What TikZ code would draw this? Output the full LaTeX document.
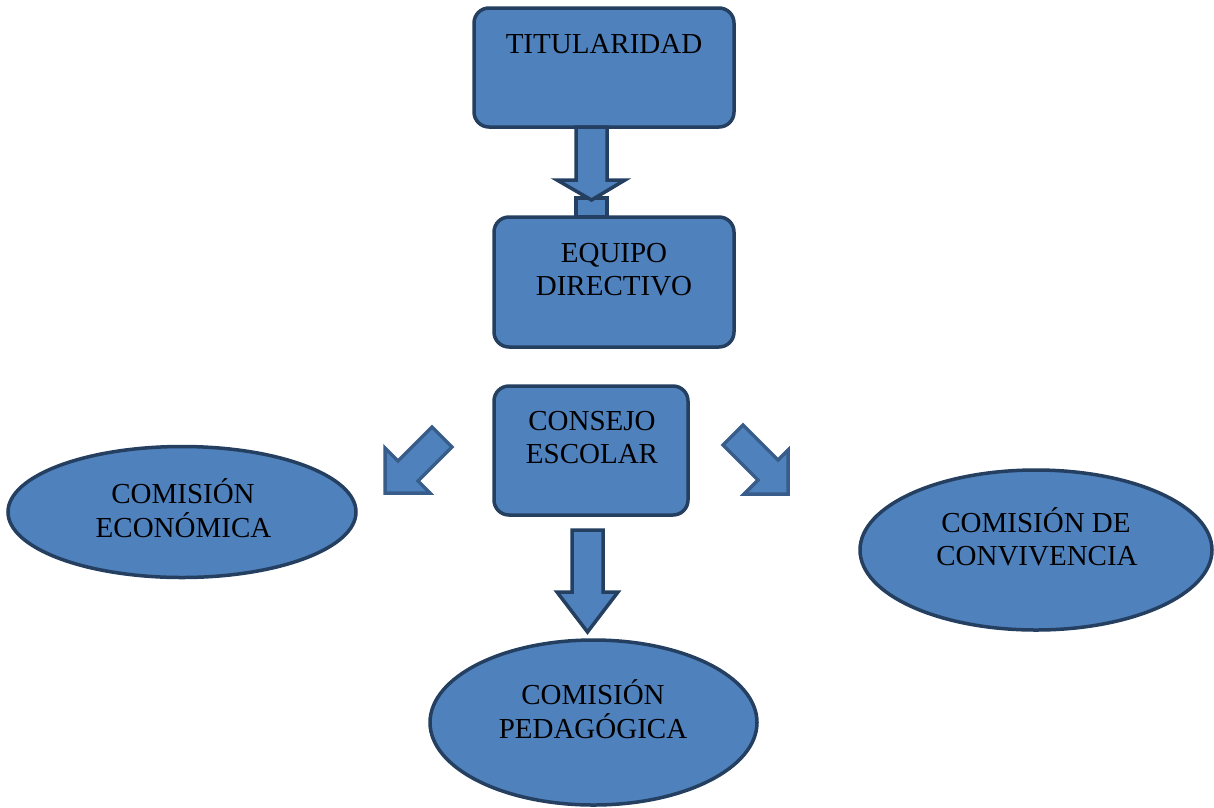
\documentclass[tikz,border=0pt]{standalone}
\usepackage{fontspec}
\setmainfont{Liberation Serif}
\usetikzlibrary{shapes.geometric}
\definecolor{fillblue}{HTML}{4F81BD}
\definecolor{darkline}{HTML}{243F60}
\definecolor{midline}{HTML}{385D8A}
\tikzset{
  boxnode/.style={draw=darkline, fill=fillblue, line width=3.5pt, rounded corners=15pt, rectangle, inner sep=0pt},
  ellnode/.style={draw=darkline, fill=fillblue, line width=3.5pt, ellipse, inner sep=0pt},
  lbl/.style={anchor=base, inner sep=0pt, font=\fontsize{29}{33}\selectfont},
  blockarrow/.style={draw=darkline, fill=fillblue, line width=3.5pt, line join=miter},
  sidearrow/.style={draw=midline, fill=fillblue, line width=3.5pt, line join=miter},
}
\begin{document}
\begin{tikzpicture}[x=1pt,y=-1pt]
\useasboundingbox (0,0) rectangle (1214,807);
% boxes
\node[boxnode, minimum width=260pt, minimum height=119pt] (tit) at (604,67.5) {};
\node[lbl] (titl) at (604,53) {TITULARIDAD};
\node[boxnode, minimum width=240pt, minimum height=130pt] (equ) at (614,282) {};
\node[lbl] (equl1) at (614,262) {EQUIPO};
\node[lbl] (equl2) at (614,295) {DIRECTIVO};
\node[boxnode, minimum width=194pt, minimum height=129pt] (con) at (591,450.5) {};
\node[lbl] (conl1) at (592,430) {CONSEJO};
\node[lbl] (conl2) at (592,463) {ESCOLAR};
% ellipses
\node[ellnode, minimum width=348pt, minimum height=131pt] (eco) at (182,512) {};
\node[lbl] (ecol1) at (183,503) {COMISIÓN};
\node[lbl] (ecol2) at (183.5,537) {ECONÓMICA};
\node[ellnode, minimum width=327pt, minimum height=165pt] (ped) at (593.5,722.5) {};
\node[lbl] (pedl1) at (593,704) {COMISIÓN};
\node[lbl] (pedl2) at (593,738) {PEDAGÓGICA};
\node[ellnode, minimum width=352pt, minimum height=160pt] (cvv) at (1036,550) {};
\node[lbl] (cvvl1) at (1036,532) {COMISIÓN DE};
\node[lbl] (cvvl2) at (1037,565) {CONVIVENCIA};
% top arrow (titularidad -> equipo directivo)
\draw[blockarrow] (576,198) rectangle (607,217);
\draw[blockarrow] (576,127) -- (576,180) -- (557,180) -- (591.5,200) -- (625,180) -- (607,180) -- (607,127) -- cycle;
% bottom arrow (consejo -> pedagogica)
\draw[blockarrow] (572,530) -- (572,592) -- (557,592) -- (587.5,632) -- (618,592) -- (603,592) -- (603,530) -- cycle;
% left arrow (consejo -> economica)
\draw[sidearrow] (432,427) -- (398,461) -- (385,448) -- (385,493) -- (430,493) -- (418,481) -- (452,447) -- cycle;
% right arrow (consejo -> convivencia)
\draw[sidearrow] (743,425) -- (778,460) -- (788,450) -- (788,494) -- (744,494) -- (758,480) -- (723,445) -- cycle;
\end{tikzpicture}
\end{document}
